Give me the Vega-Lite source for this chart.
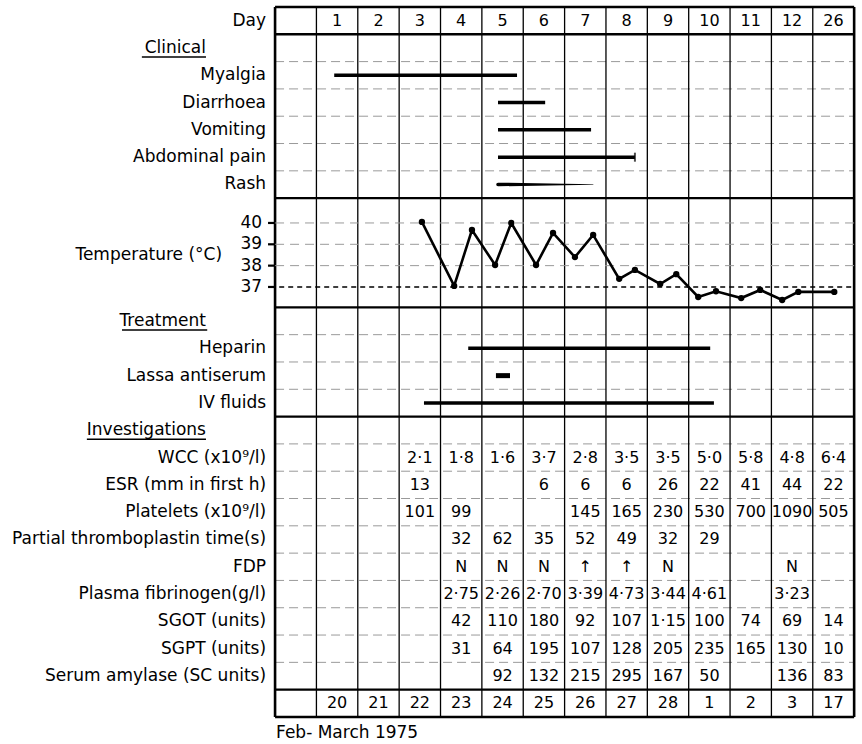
{
"$schema":"https://vega.github.io/schema/vega-lite/v6.json",
"width":862,"height":744,
"autosize":{"type":"fit","contains":"padding"},
"padding":0,
"background":"white",
"config":{"view":{"stroke":null},"text":{"font":"DejaVu Sans","fontSize":17,"color":"black"},"rule":{"color":"black"}},
"datasets":{
"faintRows":[{"y":1.5},{"y":2.5},{"y":3.5},{"y":4.5},{"y":5.5},{"y":11.5},{"y":12.5},{"y":13.5},{"y":15.5},{"y":16.5},{"y":17.5},{"y":18.5},{"y":19.5},{"y":20.5},{"y":21.5},{"y":22.5},{"y":23.5}],
"sectionRows":[{"y":-0.5},{"y":0.5},{"y":6.5},{"y":10.5},{"y":14.5},{"y":24.5},{"y":25.5}],
"innerCols":[{"x":0.5},{"x":1.5},{"x":2.5},{"x":3.5},{"x":4.5},{"x":5.5},{"x":6.5},{"x":7.5},{"x":8.5},{"x":9.5},{"x":10.5},{"x":11.5},{"x":12.5}],
"outerCols":[{"x":-0.5},{"x":13.5}],
"labels":[
{"label":"Day","row":0},
{"label":"Myalgia","row":2},
{"label":"Diarrhoea","row":3},
{"label":"Vomiting","row":4},
{"label":"Abdominal pain","row":5},
{"label":"Rash","row":6},
{"label":"Heparin","row":12},
{"label":"Lassa antiserum","row":13},
{"label":"IV fluids","row":14},
{"label":"WCC (x10⁹/l)","row":16},
{"label":"ESR (mm in first h)","row":17},
{"label":"Platelets (x10⁹/l)","row":18},
{"label":"Partial thromboplastin time(s)","row":19},
{"label":"FDP","row":20},
{"label":"Plasma fibrinogen(g/l)","row":21},
{"label":"SGOT (units)","row":22},
{"label":"SGPT (units)","row":23},
{"label":"Serum amylase (SC units)","row":24}
],
"headings":[
{"label":"Clinical","row":1,"from":-3.72,"to":-2.17},
{"label":"Treatment","row":11,"from":-4.2,"to":-2.14},
{"label":"Investigations","row":15,"from":-5.05,"to":-2.17}
],
"cells":[
{"row":0,"col":1,"v":"1"},{"row":0,"col":2,"v":"2"},{"row":0,"col":3,"v":"3"},{"row":0,"col":4,"v":"4"},{"row":0,"col":5,"v":"5"},{"row":0,"col":6,"v":"6"},{"row":0,"col":7,"v":"7"},{"row":0,"col":8,"v":"8"},{"row":0,"col":9,"v":"9"},{"row":0,"col":10,"v":"10"},{"row":0,"col":11,"v":"11"},{"row":0,"col":12,"v":"12"},{"row":0,"col":13,"v":"26"},
{"row":16,"col":3,"v":"2·1"},{"row":16,"col":4,"v":"1·8"},{"row":16,"col":5,"v":"1·6"},{"row":16,"col":6,"v":"3·7"},{"row":16,"col":7,"v":"2·8"},{"row":16,"col":8,"v":"3·5"},{"row":16,"col":9,"v":"3·5"},{"row":16,"col":10,"v":"5·0"},{"row":16,"col":11,"v":"5·8"},{"row":16,"col":12,"v":"4·8"},{"row":16,"col":13,"v":"6·4"},
{"row":17,"col":3,"v":"13"},{"row":17,"col":6,"v":"6"},{"row":17,"col":7,"v":"6"},{"row":17,"col":8,"v":"6"},{"row":17,"col":9,"v":"26"},{"row":17,"col":10,"v":"22"},{"row":17,"col":11,"v":"41"},{"row":17,"col":12,"v":"44"},{"row":17,"col":13,"v":"22"},
{"row":18,"col":3,"v":"101"},{"row":18,"col":4,"v":"99"},{"row":18,"col":7,"v":"145"},{"row":18,"col":8,"v":"165"},{"row":18,"col":9,"v":"230"},{"row":18,"col":10,"v":"530"},{"row":18,"col":11,"v":"700"},{"row":18,"col":12,"v":"1090"},{"row":18,"col":13,"v":"505"},
{"row":19,"col":4,"v":"32"},{"row":19,"col":5,"v":"62"},{"row":19,"col":6,"v":"35"},{"row":19,"col":7,"v":"52"},{"row":19,"col":8,"v":"49"},{"row":19,"col":9,"v":"32"},{"row":19,"col":10,"v":"29"},
{"row":20,"col":4,"v":"N"},{"row":20,"col":5,"v":"N"},{"row":20,"col":6,"v":"N"},{"row":20,"col":7,"v":"↑"},{"row":20,"col":8,"v":"↑"},{"row":20,"col":9,"v":"N"},{"row":20,"col":12,"v":"N"},
{"row":21,"col":4,"v":"2·75"},{"row":21,"col":5,"v":"2·26"},{"row":21,"col":6,"v":"2·70"},{"row":21,"col":7,"v":"3·39"},{"row":21,"col":8,"v":"4·73"},{"row":21,"col":9,"v":"3·44"},{"row":21,"col":10,"v":"4·61"},{"row":21,"col":12,"v":"3·23"},
{"row":22,"col":4,"v":"42"},{"row":22,"col":5,"v":"110"},{"row":22,"col":6,"v":"180"},{"row":22,"col":7,"v":"92"},{"row":22,"col":8,"v":"107"},{"row":22,"col":9,"v":"1·15"},{"row":22,"col":10,"v":"100"},{"row":22,"col":11,"v":"74"},{"row":22,"col":12,"v":"69"},{"row":22,"col":13,"v":"14"},
{"row":23,"col":4,"v":"31"},{"row":23,"col":5,"v":"64"},{"row":23,"col":6,"v":"195"},{"row":23,"col":7,"v":"107"},{"row":23,"col":8,"v":"128"},{"row":23,"col":9,"v":"205"},{"row":23,"col":10,"v":"235"},{"row":23,"col":11,"v":"165"},{"row":23,"col":12,"v":"130"},{"row":23,"col":13,"v":"10"},
{"row":24,"col":5,"v":"92"},{"row":24,"col":6,"v":"132"},{"row":24,"col":7,"v":"215"},{"row":24,"col":8,"v":"295"},{"row":24,"col":9,"v":"167"},{"row":24,"col":10,"v":"50"},{"row":24,"col":12,"v":"136"},{"row":24,"col":13,"v":"83"},
{"row":25,"col":1,"v":"20"},{"row":25,"col":2,"v":"21"},{"row":25,"col":3,"v":"22"},{"row":25,"col":4,"v":"23"},{"row":25,"col":5,"v":"24"},{"row":25,"col":6,"v":"25"},{"row":25,"col":7,"v":"26"},{"row":25,"col":8,"v":"27"},{"row":25,"col":9,"v":"28"},{"row":25,"col":10,"v":"1"},{"row":25,"col":11,"v":"2"},{"row":25,"col":12,"v":"3"},{"row":25,"col":13,"v":"17"}
],
"spans":[
{"item":"Myalgia","row":2,"start":0.93,"end":5.35},
{"item":"Diarrhoea","row":3,"start":4.89,"end":6.03},
{"item":"Vomiting","row":4,"start":4.89,"end":7.14},
{"item":"Abdominal pain","row":5,"start":4.89,"end":8.2},
{"item":"Heparin","row":12,"start":4.17,"end":10.02},
{"item":"IV fluids","row":14,"start":3.1,"end":10.11}
],
"lassa":[{"item":"Lassa antiserum","row":13,"start":4.84,"end":5.18}],
"rash":[{"item":"Rash","row":6,"x":4.89},{"item":"Rash","row":6,"x":7.19}],
"caption":[{"text":"Feb- March 1975","row":26.08}],
"tempTicks":[{"t":37},{"t":38},{"t":39},{"t":40}],
"tempTitle":[{"text":"Temperature (°C)","t":38.5}],
"temps":[
{"day":3.05,"t":40.05},{"day":3.83,"t":37.05},{"day":4.26,"t":39.67},{"day":4.82,"t":38.03},{"day":5.21,"t":40.0},
{"day":5.81,"t":38.03},{"day":6.22,"t":39.53},{"day":6.75,"t":38.4},{"day":7.19,"t":39.44},{"day":7.82,"t":37.38},
{"day":8.2,"t":37.8},{"day":8.81,"t":37.14},{"day":9.2,"t":37.6},{"day":9.73,"t":36.53},{"day":10.16,"t":36.8},
{"day":10.77,"t":36.48},{"day":11.23,"t":36.86},{"day":11.76,"t":36.39},{"day":12.15,"t":36.77},{"day":13.02,"t":36.77}
]
},
"layer":[
{
"layer":[
{"data":{"name":"faintRows"},"mark":{"type":"rule","color":"#9a9a9a","strokeWidth":1,"strokeDash":[9,5]},
 "encoding":{"x":{"datum":-0.5,"type":"quantitative","scale":{"domain":[-7.15,13.69],"nice":false,"zero":false},"axis":null},"x2":{"datum":13.5},
 "y":{"field":"y","type":"quantitative","scale":{"domain":[-0.756,26.49],"reverse":true,"nice":false,"zero":false},"axis":null}}},
{"data":{"name":"innerCols"},"mark":{"type":"rule","strokeWidth":1.3},
 "encoding":{"x":{"field":"x","type":"quantitative","scale":{"domain":[-7.15,13.69],"nice":false,"zero":false},"axis":null},
 "y":{"datum":-0.5,"type":"quantitative","scale":{"domain":[-0.756,26.49],"reverse":true,"nice":false,"zero":false},"axis":null},"y2":{"datum":25.5}}},
{"data":{"name":"outerCols"},"mark":{"type":"rule","strokeWidth":2.6},
 "encoding":{"x":{"field":"x","type":"quantitative","scale":{"domain":[-7.15,13.69],"nice":false,"zero":false},"axis":null},
 "y":{"datum":-0.5,"type":"quantitative","scale":{"domain":[-0.756,26.49],"reverse":true,"nice":false,"zero":false},"axis":null},"y2":{"datum":25.5}}},
{"data":{"name":"sectionRows"},"mark":{"type":"rule","strokeWidth":2.4},
 "encoding":{"x":{"datum":-0.5,"type":"quantitative","scale":{"domain":[-7.15,13.69],"nice":false,"zero":false},"axis":null},"x2":{"datum":13.5},
 "y":{"field":"y","type":"quantitative","scale":{"domain":[-0.756,26.49],"reverse":true,"nice":false,"zero":false},"axis":null}}},
{"data":{"name":"labels"},"mark":{"type":"text","align":"right","baseline":"middle"},
 "encoding":{"x":{"datum":-0.718,"type":"quantitative","scale":{"domain":[-7.15,13.69],"nice":false,"zero":false},"axis":null},
 "y":{"field":"row","type":"quantitative","scale":{"domain":[-0.756,26.49],"reverse":true,"nice":false,"zero":false},"axis":null},
 "text":{"field":"label"}}},
{"data":{"name":"headings"},"mark":{"type":"text","align":"right","baseline":"middle"},
 "encoding":{"x":{"datum":-2.17,"type":"quantitative","scale":{"domain":[-7.15,13.69],"nice":false,"zero":false},"axis":null},
 "y":{"field":"row","type":"quantitative","scale":{"domain":[-0.756,26.49],"reverse":true,"nice":false,"zero":false},"axis":null},
 "text":{"field":"label"}}},
{"data":{"name":"headings"},"mark":{"type":"rule","strokeWidth":1.6,"yOffset":9},
 "encoding":{"x":{"field":"from","type":"quantitative","scale":{"domain":[-7.15,13.69],"nice":false,"zero":false},"axis":null},"x2":{"field":"to"},
 "y":{"field":"row","type":"quantitative","scale":{"domain":[-0.756,26.49],"reverse":true,"nice":false,"zero":false},"axis":null}}},
{"data":{"name":"cells"},"mark":{"type":"text","align":"center","baseline":"middle","fontSize":16},
 "encoding":{"x":{"field":"col","type":"quantitative","scale":{"domain":[-7.15,13.69],"nice":false,"zero":false},"axis":null},
 "y":{"field":"row","type":"quantitative","scale":{"domain":[-0.756,26.49],"reverse":true,"nice":false,"zero":false},"axis":null},
 "text":{"field":"v"}}},
{"data":{"name":"spans"},"mark":{"type":"rule","strokeWidth":3.5},
 "encoding":{"x":{"field":"start","type":"quantitative","scale":{"domain":[-7.15,13.69],"nice":false,"zero":false},"axis":null},"x2":{"field":"end"},
 "y":{"field":"row","type":"quantitative","scale":{"domain":[-0.756,26.49],"reverse":true,"nice":false,"zero":false},"axis":null}}},
{"data":{"name":"lassa"},"mark":{"type":"rule","strokeWidth":5},
 "encoding":{"x":{"field":"start","type":"quantitative","scale":{"domain":[-7.15,13.69],"nice":false,"zero":false},"axis":null},"x2":{"field":"end"},
 "y":{"field":"row","type":"quantitative","scale":{"domain":[-0.756,26.49],"reverse":true,"nice":false,"zero":false},"axis":null}}},
{"data":{"name":"spans"},"transform":[{"filter":"datum.item === 'Abdominal pain'"}],"mark":{"type":"tick","orient":"vertical","size":9,"thickness":2,"color":"black"},
 "encoding":{"x":{"field":"end","type":"quantitative","scale":{"domain":[-7.15,13.69],"nice":false,"zero":false},"axis":null},
 "y":{"field":"row","type":"quantitative","scale":{"domain":[-0.756,26.49],"reverse":true,"nice":false,"zero":false},"axis":null}}},
{"data":{"name":"rash"},"mark":{"type":"trail","color":"black"},
 "encoding":{"x":{"field":"x","type":"quantitative","scale":{"domain":[-7.15,13.69],"nice":false,"zero":false},"axis":null},
 "y":{"field":"row","type":"quantitative","scale":{"domain":[-0.756,26.49],"reverse":true,"nice":false,"zero":false},"axis":null},
 "size":{"field":"x","type":"quantitative","scale":{"domain":[4.89,7.19],"range":[3.6,0.6],"zero":false},"legend":null}}},
{"data":{"name":"caption"},"mark":{"type":"text","align":"left","baseline":"middle"},
 "encoding":{"x":{"datum":-0.476,"type":"quantitative","scale":{"domain":[-7.15,13.69],"nice":false,"zero":false},"axis":null},
 "y":{"field":"row","type":"quantitative","scale":{"domain":[-0.756,26.49],"reverse":true,"nice":false,"zero":false},"axis":null},
 "text":{"field":"text"}}}
]
},
{
"layer":[
{"data":{"name":"tempTicks"},"transform":[{"filter":"datum.t > 37"}],"mark":{"type":"rule","color":"#9a9a9a","strokeWidth":1,"strokeDash":[9,6]},
 "encoding":{"x":{"datum":-0.5,"type":"quantitative","scale":{"domain":[-7.15,13.69],"nice":false,"zero":false},"axis":null},"x2":{"datum":13.5},
 "y":{"field":"t","type":"quantitative","scale":{"domain":[15.58,50.45],"nice":false,"zero":false},"axis":null}}},
{"data":{"name":"tempTicks"},"transform":[{"filter":"datum.t === 37"}],"mark":{"type":"rule","strokeWidth":1.6,"strokeDash":[5,4]},
 "encoding":{"x":{"datum":-0.4,"type":"quantitative","scale":{"domain":[-7.15,13.69],"nice":false,"zero":false},"axis":null},"x2":{"datum":13.5},
 "y":{"field":"t","type":"quantitative","scale":{"domain":[15.58,50.45],"nice":false,"zero":false},"axis":null}}},
{"data":{"name":"tempTicks"},"mark":{"type":"rule","strokeWidth":2.2},
 "encoding":{"x":{"datum":-0.67,"type":"quantitative","scale":{"domain":[-7.15,13.69],"nice":false,"zero":false},"axis":null},"x2":{"datum":-0.5},
 "y":{"field":"t","type":"quantitative","scale":{"domain":[15.58,50.45],"nice":false,"zero":false},"axis":null}}},
{"data":{"name":"tempTicks"},"mark":{"type":"text","align":"right","baseline":"middle"},
 "encoding":{"x":{"datum":-0.815,"type":"quantitative","scale":{"domain":[-7.15,13.69],"nice":false,"zero":false},"axis":null},
 "y":{"field":"t","type":"quantitative","scale":{"domain":[15.58,50.45],"nice":false,"zero":false},"axis":null},
 "text":{"field":"t","type":"quantitative"}}},
{"data":{"name":"tempTitle"},"mark":{"type":"text","align":"right","baseline":"middle"},
 "encoding":{"x":{"datum":-1.78,"type":"quantitative","scale":{"domain":[-7.15,13.69],"nice":false,"zero":false},"axis":null},
 "y":{"field":"t","type":"quantitative","scale":{"domain":[15.58,50.45],"nice":false,"zero":false},"axis":null},
 "text":{"field":"text"}}},
{"data":{"name":"temps"},"mark":{"type":"line","color":"black","strokeWidth":2.6,"point":{"filled":true,"size":40,"color":"black"}},
 "encoding":{"x":{"field":"day","type":"quantitative","scale":{"domain":[-7.15,13.69],"nice":false,"zero":false},"axis":null},
 "y":{"field":"t","type":"quantitative","scale":{"domain":[15.58,50.45],"nice":false,"zero":false},"axis":null}}}
]
}
],
"resolve":{"scale":{"y":"independent"}}
}
